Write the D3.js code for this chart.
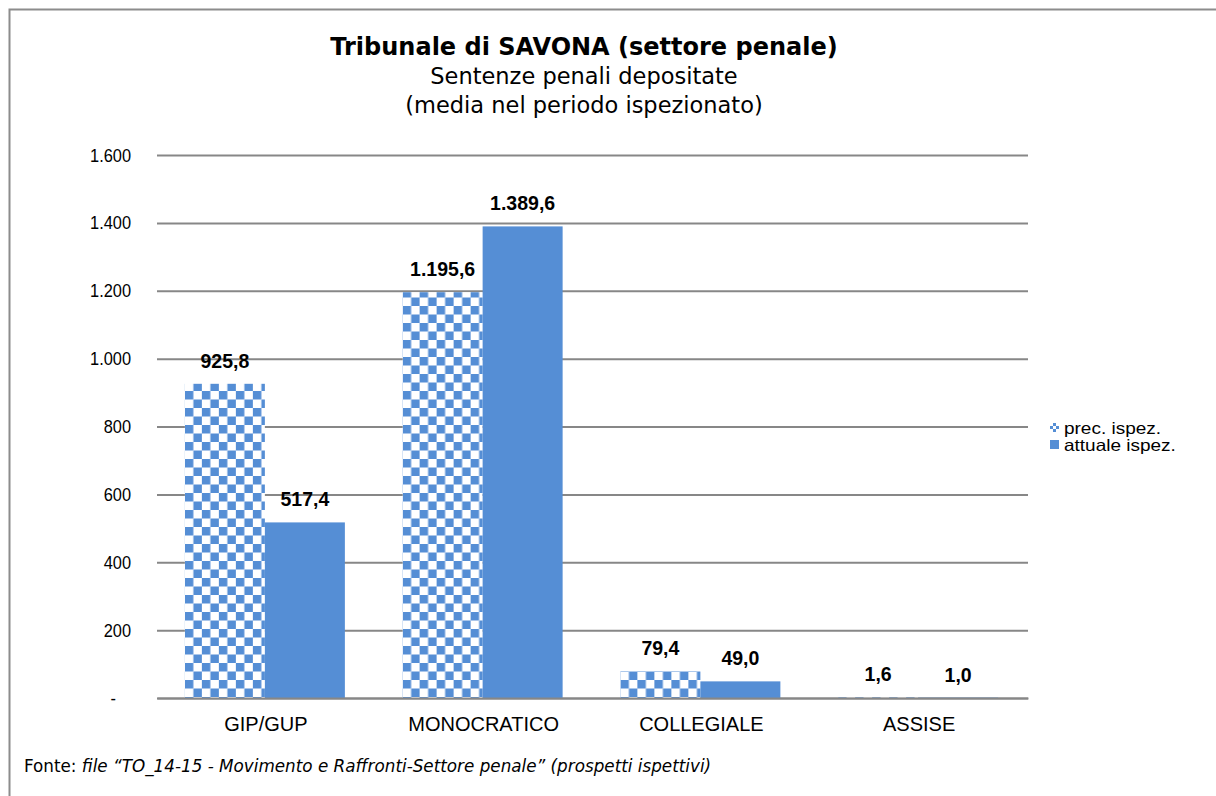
<!DOCTYPE html>
<html>
<head>
<meta charset="utf-8">
<script src="https://cdn.jsdelivr.net/npm/d3@7"></script>
<style>
  body { margin: 0; background: #fff; }
  svg { display: block; }
</style>
</head>
<body>
<svg width="1216" height="796"></svg>
<script>
// chart data
var categories = ["GIP/GUP", "MONOCRATICO", "COLLEGIALE", "ASSISE"];
var seriesNames = ["prec. ispez.", "attuale ispez."];
var precValues = [925.8, 1195.6, 79.4, 1.6];
var attualeValues = [517.4, 1389.6, 49.0, 1.0];
var yTicks = [0, 200, 400, 600, 800, 1000, 1200, 1400, 1600];

var blue = "#558ed5";
var svg = d3.select("svg");

// checker patterns for the previous inspection series
var defs = svg.append("defs");
function checker(id, size) {
    var p = defs.append("pattern")
        .attr("id", id)
        .attr("patternUnits", "userSpaceOnUse")
        .attr("width", size * 2).attr("height", size * 2);
    p.append("rect").attr("width", size * 2).attr("height", size * 2).attr("fill", "#fff");
    p.append("rect").attr("width", size).attr("height", size).attr("fill", blue);
    p.append("rect").attr("x", size).attr("y", size).attr("width", size).attr("height", size).attr("fill", blue);
}
checker("checker", 8.5);
checker("checkerSmall", 3);

// outer frame
svg.append("rect")
    .attr("x", 9.5).attr("y", 9.5)
    .attr("width", 1220).attr("height", 800)
    .attr("fill", "none").attr("stroke", "#8c8c8c").attr("stroke-width", 2);

// titles
svg.append("text").attr("x", 584).attr("y", 55)
    .attr("text-anchor", "middle")
    .attr("font-family", "DejaVu Sans, Verdana, sans-serif")
    .attr("font-weight", "bold").attr("font-size", "24px")
    .text("Tribunale di SAVONA (settore penale)");
svg.append("text").attr("x", 584).attr("y", 84)
    .attr("text-anchor", "middle")
    .attr("font-family", "DejaVu Sans, Verdana, sans-serif")
    .attr("font-size", "22.5px")
    .text("Sentenze penali depositate");
svg.append("text").attr("x", 584).attr("y", 113)
    .attr("text-anchor", "middle")
    .attr("font-family", "DejaVu Sans, Verdana, sans-serif")
    .attr("font-size", "22.5px")
    .text("(media nel periodo ispezionato)");

var plotLeft = 157, plotRight = 1028, plotTop = 155, plotBottom = 698;

var x = d3.scaleBand().domain(categories).range([plotLeft, plotRight]);
var x1 = d3.scaleBand().domain(seriesNames).range([0, 160]);
var y = d3.scaleLinear().domain([0, 1600]).range([plotBottom, plotTop]);

var fmt = d3.formatLocale({ decimal: ",", thousands: ".", grouping: [3], currency: ["", ""] });
var tickFmt = function (d) { return d === 0 ? "-" : fmt.format(",")(d); };
var valFmt = fmt.format(",.1f");

// gridlines + y labels
var yAxis = svg.append("g")
    .attr("transform", "translate(" + plotLeft + ",0)")
    .call(d3.axisLeft(y).tickValues(yTicks).tickFormat(tickFmt)
        .tickSize(-(plotRight - plotLeft)).tickPadding(26));
yAxis.select(".domain").remove();
yAxis.selectAll(".tick line").attr("stroke", "#878787").attr("stroke-width", 2);
yAxis.selectAll(".tick text")
    .attr("font-family", "Liberation Sans, Arial, sans-serif")
    .attr("font-size", "19px").attr("fill", "#000")
    .attr("dx", function (d) { return d === 0 ? -15 : 0; })
    .each(function () {
        // labels in the source are a bit condensed
        var w = this.getComputedTextLength();
        d3.select(this).attr("textLength", w * 0.86).attr("lengthAdjust", "spacingAndGlyphs");
    });

// bars
var groups = svg.selectAll(".grp")
    .data(categories)
    .enter().append("g")
    .attr("class", "grp")
    .attr("transform", function (d) { return "translate(" + (x(d) + x.bandwidth() / 2 - 81) + ",0)"; });

groups.each(function (c, i) {
    var g = d3.select(this);
    var vals = [precValues[i], attualeValues[i]];
    vals.forEach(function (v, j) {
        g.append("rect")
            .attr("x", x1(seriesNames[j]))
            .attr("y", y(v))
            .attr("width", x1.bandwidth())
            .attr("height", plotBottom - y(v))
            .attr("fill", j === 0 ? "url(#checker)" : blue);
        g.append("text")
            .attr("x", x1(seriesNames[j]) + x1.bandwidth() / 2)
            .attr("y", y(v) - 16)
            .attr("text-anchor", "middle")
            .attr("font-family", "Liberation Sans, Arial, sans-serif")
            .attr("font-weight", "bold").attr("font-size", "19.5px")
            .text(valFmt(v));
    });
});

// x axis
var xAxis = svg.append("g")
    .attr("transform", "translate(0," + plotBottom + ")")
    .call(d3.axisBottom(x).tickSize(0).tickPadding(19));
xAxis.select(".domain").attr("stroke", "#878787").attr("stroke-width", 2);
xAxis.selectAll(".tick text")
    .attr("font-family", "Liberation Sans, Arial, sans-serif")
    .attr("font-size", "20px").attr("fill", "#000");

// legend
var legend = svg.append("g").attr("transform", "translate(1050,0)");
seriesNames.forEach(function (s, j) {
    var ly = 434 + j * 17;
    legend.append("rect")
        .attr("x", 0).attr("y", ly - 11)
        .attr("width", 9).attr("height", 9)
        .attr("fill", j === 0 ? "url(#checkerSmall)" : blue);
    var t = legend.append("text")
        .attr("x", 14).attr("y", ly)
        .attr("font-family", "Liberation Sans, Arial, sans-serif")
        .attr("font-size", "16.5px")
        .text(s);
    var w = t.node().getComputedTextLength();
    t.attr("textLength", w * 1.15).attr("lengthAdjust", "spacingAndGlyphs");
});

// source note
var src = svg.append("text").attr("x", 24).attr("y", 772)
    .attr("font-family", "DejaVu Sans, Verdana, sans-serif")
    .attr("font-size", "16.8px");
src.append("tspan").text("Fonte: ");
src.append("tspan").attr("font-style", "italic")
    .text("file \u201CTO_14-15 - Movimento e Raffronti-Settore penale\u201D (prospetti ispettivi)");
</script>
</body>
</html>
